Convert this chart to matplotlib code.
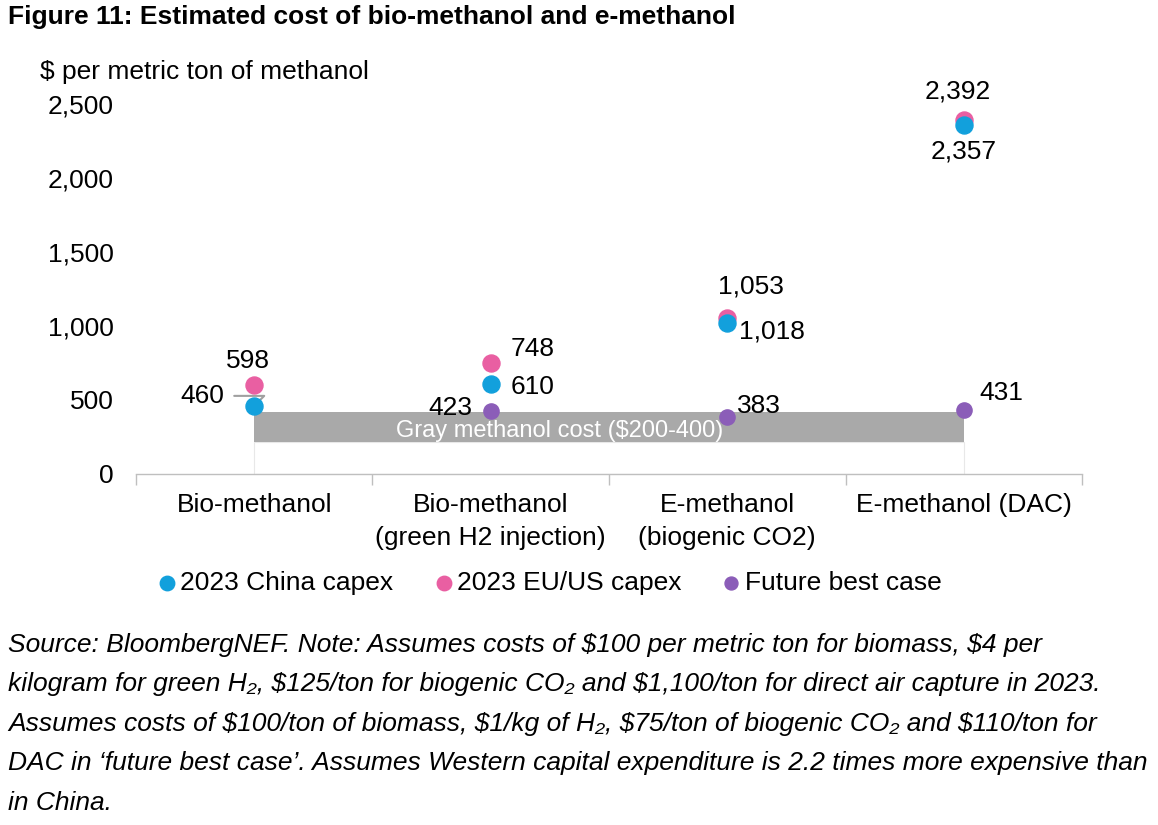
import numpy as np
import matplotlib.pyplot as plt

### Data ###

categories = ["Bio-methanol", "Bio-methanol\n(green H2 injection)",
              "E-methanol\n(biogenic CO2)", "E-methanol (DAC)"]
china_capex = [460, 610, 1018, 2357]
euus_capex = [598, 748, 1053, 2392]
future_best = [np.nan, 423, 383, 431]
gray_low = 215
gray_high = 420
yticks = [0, 500, 1000, 1500, 2000, 2500]

### Style ###

plt.rcParams['font.family'] = ['Liberation Sans', 'DejaVu Sans']
BLUE = '#12a0dc'
PINK = '#e95fa2'
PURPLE = '#8b5db8'
FS = 19

fig = plt.figure(figsize=(11.58, 8.25), dpi=100)
ax = fig.add_axes([0.1174, 0.4255, 0.8170, 0.4485])

x = np.arange(len(categories))

# gray methanol band, drawn from the first to the last category centre
ax.bar(1.5, gray_low, width=3, bottom=0, color='white', edgecolor='#e8e8e8',
       linewidth=0.8, zorder=1)
ax.bar(1.5, gray_high - gray_low, width=3, bottom=gray_low, color='#a9a9a9',
       edgecolor='none', zorder=2)
ax.text(1.29, (gray_low + gray_high) / 2 - 30, "Gray methanol cost ($200-400)",
        color='white', fontsize=17, ha='center', va='center', zorder=3,
        parse_math=False)

ms = 150
ax.scatter(x, china_capex, s=ms, color=BLUE, zorder=5, label="2023 China capex",
           clip_on=False)
ax.scatter(x, euus_capex, s=ms, color=PINK, zorder=4, label="2023 EU/US capex",
           clip_on=False)
ax.scatter(x, future_best, s=ms * 0.8, color=PURPLE, zorder=5,
           label="Future best case", clip_on=False)

# data labels: value, x offset px, y offset px, alignment
def lab(xi, val, dx, dy, ha='center'):
    ax.annotate(f"{val:,.0f}", (xi, val), xytext=(dx, dy), textcoords='offset pixels',
                ha=ha, va='center', fontsize=FS, annotation_clip=False, zorder=6)

lab(0, china_capex[0], -30, 10, 'right')
ax.annotate("", (0, china_capex[0]), xytext=(-20, 10), textcoords='offset pixels',
            arrowprops=dict(arrowstyle='-', color='#a0a0a0', lw=1.5, shrinkA=0,
                            shrinkB=2,
                            connectionstyle='angle,angleA=0,angleB=45,rad=0'),
            zorder=3)
lab(0, euus_capex[0], -6, 24)
lab(1, euus_capex[1], 20, 14, 'left')
lab(1, china_capex[1], 20, -3, 'left')
lab(1, future_best[1], -18, 3, 'right')
lab(2, euus_capex[2], 24, 32)
lab(2, china_capex[2], 12, -8, 'left')
lab(2, future_best[2], 10, 11, 'left')
lab(3, euus_capex[3], -6, 28)
lab(3, china_capex[3], 0, -26)
lab(3, future_best[3], 16, 17, 'left')

ax.set_xlim(-0.5, 3.5)
ax.set_ylim(0, 2500)
ax.set_yticks(yticks)
ax.set_yticklabels([f"{t:,}" for t in yticks])
ax.set_xticks(x)
ax.set_xticklabels(categories, linespacing=1.45)
ax.set_xticks(np.arange(-0.5, 4), minor=True)
ax.tick_params(axis='y', length=0, labelsize=FS, pad=16)
ax.tick_params(axis='x', which='major', length=0, labelsize=FS, pad=14)
ax.tick_params(axis='x', which='minor', length=8, color='#bfbfbf', width=1)
for s in ['top', 'right', 'left']:
    ax.spines[s].set_visible(False)
ax.spines['bottom'].set_color('#bfbfbf')
ax.spines['bottom'].set_linewidth(1)

fig.text(8 / 1158, 1 - 17 / 825, "Figure 11: Estimated cost of bio-methanol and e-methanol",
         fontsize=FS, fontweight='bold', va='center', ha='left')
fig.text(40 / 1158, 1 - 72 / 825, "$ per metric ton of methanol", fontsize=FS,
         va='center', ha='left', parse_math=False)

ax.legend(loc='center', bbox_to_anchor=(541 / 1158, 1 - 583 / 825),
          bbox_transform=fig.transFigure, ncol=3, frameon=False, fontsize=FS,
          handletextpad=-0.5, columnspacing=0.9, markerscale=0.85,
          borderaxespad=0)

notes = [
    "Source: BloombergNEF. Note: Assumes costs of $100 per metric ton for biomass, $4 per",
    "kilogram for green H\u2082, $125/ton for biogenic CO\u2082 and $1,100/ton for direct air capture in 2023.",
    "Assumes costs of $100/ton of biomass, $1/kg of H\u2082, $75/ton of biogenic CO\u2082 and $110/ton for",
    "DAC in \u2018future best case\u2019. Assumes Western capital expenditure is 2.2 times more expensive than",
    "in China.",
]
for i, line in enumerate(notes):
    fig.text(8 / 1158, 1 - (645 + 39.4 * i) / 825, line, fontsize=FS, style='italic',
             va='center', ha='left', parse_math=False)

plt.savefig("out.png", dpi=100)
